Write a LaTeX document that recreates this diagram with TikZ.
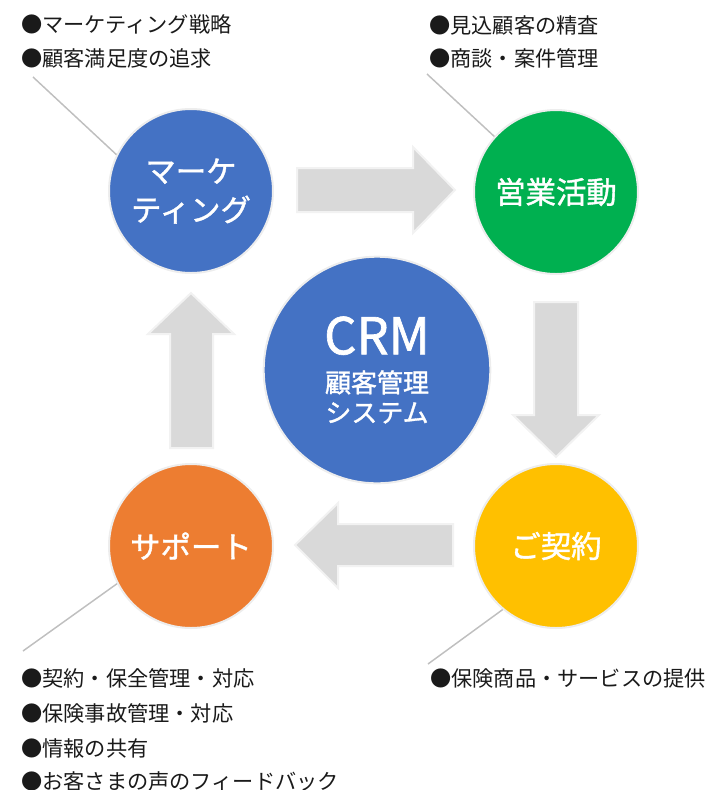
\documentclass[tikz,border=0pt]{standalone}
\usepackage{fontspec}
\setmainfont{Noto Sans CJK JP}
\newfontfamily\medfont{Noto Sans CJK JP}[FakeBold=1.3]
\definecolor{mkblue}{HTML}{4472C4}
\definecolor{slgreen}{HTML}{00B050}
\definecolor{ctyellow}{HTML}{FFC000}
\definecolor{suorange}{HTML}{ED7D31}
\definecolor{arrowfill}{HTML}{D9D9D9}
\definecolor{arrowline}{HTML}{F2F2F2}
\definecolor{circline}{HTML}{EDEDED}
\definecolor{leadgray}{HTML}{BFBFBF}
\definecolor{itemtext}{HTML}{1A1A1A}
\begin{document}
\begin{tikzpicture}[x=0.75pt,y=-0.75pt,
  circ/.style={circle, draw=circline, line width=1.5pt, minimum size=123pt, inner sep=0pt,
    text=white, align=center, font=\fontsize{22.8}{29}\selectfont\medfont},
  blockarrow/.style={fill=arrowfill, draw=arrowline, line width=1.5pt, line join=miter},
  leader/.style={draw=leadgray, line width=1.1pt},
  item/.style={anchor=west, inner sep=0pt, text=itemtext, font=\fontsize{15.9}{18}\selectfont}]
\useasboundingbox (0,0) rectangle (709,790);

% block arrows
\draw[blockarrow] (297,168) -- (413,168) -- (413,147) -- (455,190) -- (413,233) -- (413,212) -- (297,212) -- cycle;
\draw[blockarrow] (534,302) -- (578,302) -- (578,415) -- (599,415) -- (556,457) -- (513,415) -- (534,415) -- cycle;
\draw[blockarrow] (453,524) -- (338,524) -- (338,503) -- (295,545) -- (338,588) -- (338,566) -- (453,566) -- cycle;
\draw[blockarrow] (170,448) -- (170,334) -- (148,334) -- (191,293) -- (234,334) -- (213,334) -- (213,448) -- cycle;

% circles
\node[circ, fill=mkblue] (mk) at (191,191) {マーケ\\ティング};
\node[circ, fill=slgreen] (sales) at (556,192) {営業活動};
\node[circ, fill=ctyellow] (contract) at (556,546) {ご契約};
\node[circ, fill=suorange] (support) at (191,546) {サポート};
\node[circ, fill=mkblue, minimum size=170pt, font=\fontsize{19.5}{22.5}\selectfont\medfont] (crm) at (377,370)
  {{\fontsize{38}{38}\selectfont CRM}\\[6pt]顧客管理\\システム};

% leader lines
\coordinate (tlc) at (33,77);
\coordinate (trc) at (427,74);
\coordinate (brc) at (428,664);
\coordinate (blc) at (23,651);
\draw[leader] (tlc) -- (mk.154);
\draw[leader] (trc) -- (sales.138);
\draw[leader] (brc) -- (contract.230);
\draw[leader] (blc) -- (support.207);

% item lists
\node[item] (tl1) at (21,24) {●マーケティング戦略};
\node[item] (tl2) at (21,58) {●顧客満足度の追求};
\node[item] (tr1) at (429,25) {●見込顧客の精査};
\node[item] (tr2) at (429,58) {●商談・案件管理};
\node[item] (br1) at (430,678) {●保険商品・サービスの提供};
\node[item] (bl1) at (21,678) {●契約・保全管理・対応};
\node[item] (bl2) at (21,713) {●保険事故管理・対応};
\node[item] (bl3) at (21,748) {●情報の共有};
\node[item] (bl4) at (21,781) {●お客さまの声のフィードバック};
\end{tikzpicture}
\end{document}
